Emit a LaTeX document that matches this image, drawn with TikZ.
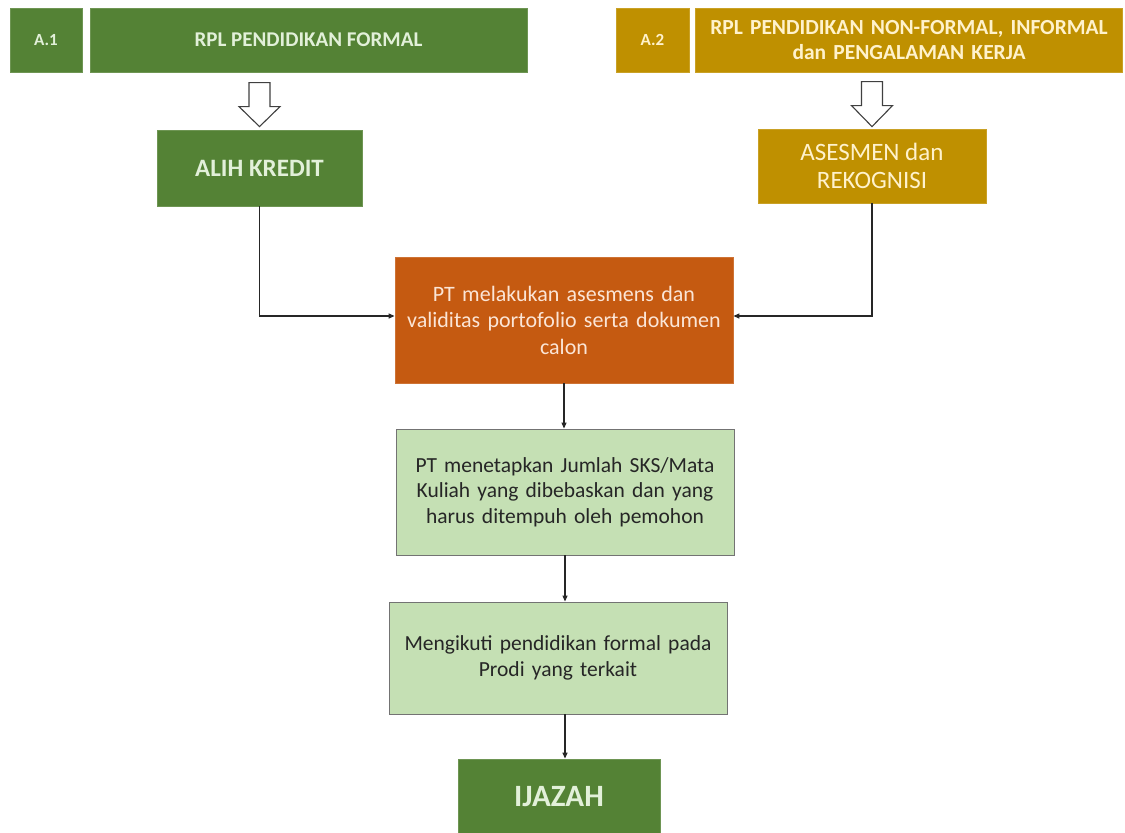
\documentclass[tikz,border=0pt]{standalone}
\usepackage{fontspec}
\setmainfont{Carlito}
\usetikzlibrary{arrows.meta}
\definecolor{dgreen}{HTML}{548235}
\definecolor{gold}{HTML}{BF9000}
\definecolor{orng}{HTML}{C55A11}
\definecolor{lgreen}{HTML}{C5E0B4}
\definecolor{tgreen}{HTML}{E2F0D9}
\definecolor{tgold}{HTML}{FFF2CC}
\definecolor{torng}{HTML}{FBE5D6}
\tikzset{
  box/.style={rectangle, inner sep=0pt, align=center},
  greenbox/.style={box, fill=dgreen, draw=dgreen!85!white, line width=0.8pt, text=tgreen, font=\bfseries},
  goldbox/.style={box, fill=gold, draw=gold!85!white, line width=0.8pt, text=tgold},
  orngbox/.style={box, fill=orng, draw=orng!85!white, line width=0.8pt, text=torng},
  lightbox/.style={box, fill=lgreen, draw=black!55, line width=0.9pt, text=black!85},
  conn/.style={draw=black!85, line width=1.2pt, -{Triangle[length=6pt,width=5pt]}},
  hollow/.style={draw=black!75, fill=white, line width=1.1pt, line join=miter}
}
\begin{document}
\begin{tikzpicture}[x=1pt,y=-1pt]
\useasboundingbox (0,0) rectangle (1125,833);
% top left
\node[greenbox, minimum width=72, minimum height=64, font=\bfseries\fontsize{17}{20}\selectfont] (a1) at (46,40) {A.1};
\node[greenbox, minimum width=437, minimum height=64, font=\bfseries\fontsize{21}{24}\selectfont] (a1t) at (308.5,40) {RPL PENDIDIKAN FORMAL};
% top right
\node[goldbox, minimum width=73, minimum height=64, font=\bfseries\fontsize{17}{20}\selectfont] (a2) at (652.5,40) {A.2};
\node[goldbox, minimum width=427, minimum height=64, text width=425, font=\bfseries\fontsize{21.5}{25}\selectfont] (a2t) at (909,40) {RPL PENDIDIKAN NON-FORMAL, INFORMAL\\dan PENGALAMAN KERJA};
% second row
\node[greenbox, minimum width=205, minimum height=76, font=\bfseries\fontsize{25}{28}\selectfont] (ak) at (259.5,168) {ALIH KREDIT};
\node[goldbox, minimum width=228, minimum height=74, font=\fontsize{25}{28}\selectfont] (as) at (872,166) {ASESMEN dan\\REKOGNISI};
% hollow arrows
\draw[hollow, shift={(ak.north)}] (-10.5pt,47pt) -- (10.5pt,47pt) -- (10.5pt,23pt) -- (20.5pt,23pt) -- (0pt,3pt) -- (-20.5pt,23pt) -- (-10.5pt,23pt) -- cycle;
\draw[hollow, shift={(as.north)}] (-10.5pt,47pt) -- (10.5pt,47pt) -- (10.5pt,23pt) -- (20.5pt,23pt) -- (0pt,2pt) -- (-20.5pt,23pt) -- (-10.5pt,23pt) -- cycle;
% center
\node[orngbox, minimum width=338, minimum height=126, text width=334, font=\fontsize{22}{26.5}\selectfont] (pt) at (564,320) {PT melakukan asesmens dan\\validitas portofolio serta dokumen\\calon};
\node[lightbox, minimum width=338, minimum height=126, text width=334, font=\fontsize{21.5}{25.5}\selectfont] (sks) at (565,492) {PT menetapkan Jumlah SKS/Mata\\Kuliah yang dibebaskan dan yang\\harus ditempuh oleh pemohon};
\node[lightbox, minimum width=338, minimum height=112, text width=334, font=\fontsize{21.5}{25.5}\selectfont] (ikut) at (558,658) {Mengikuti pendidikan formal pada\\Prodi yang terkait};
\node[greenbox, minimum width=202, minimum height=76, font=\bfseries\fontsize{31}{34}\selectfont] (ij) at (559,797) {IJAZAH};
% connectors
\draw[conn] (ak.south) |- ([yshift=4pt]pt.west);
\draw[conn] (as.south) |- ([yshift=4pt]pt.east);
\draw[conn] (pt.south) -- (pt.south |- sks.north);
\draw[conn] (sks.south) -- (sks.south |- ikut.north);
\draw[conn] (sks.south |- ikut.south) -- (sks.south |- ij.north);
\end{tikzpicture}
\end{document}
